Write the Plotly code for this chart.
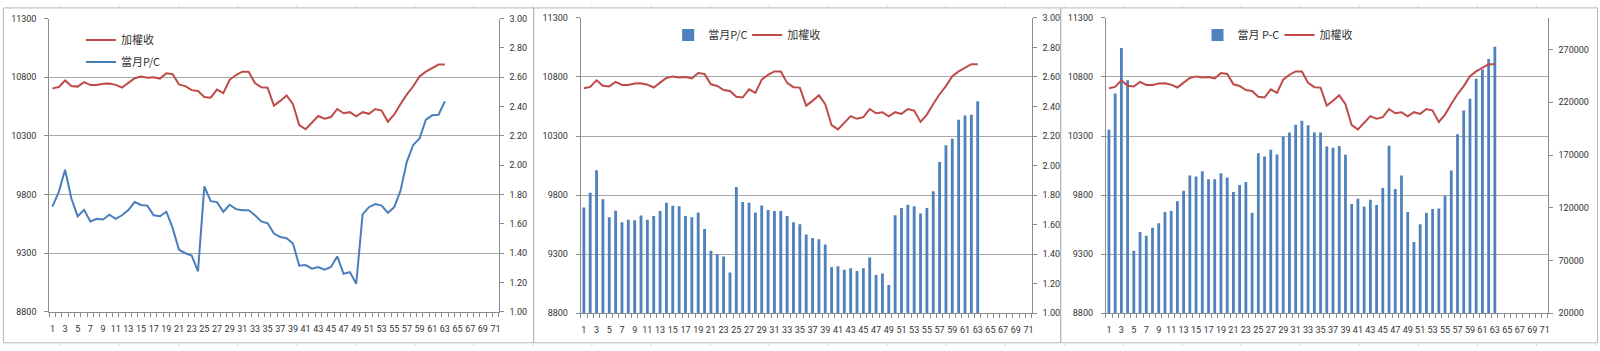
import plotly.graph_objects as go

# ---------------- data ----------------
periods = [1, 2, 3, 4, 5, 6, 7, 8, 9, 10, 11, 12, 13, 14, 15, 16, 17, 18, 19, 20,
           21, 22, 23, 24, 25, 26, 27, 28, 29, 30, 31, 32, 33, 34, 35, 36, 37, 38, 39, 40,
           41, 42, 43, 44, 45, 46, 47, 48, 49, 50, 51, 52, 53, 54, 55, 56, 57, 58, 59, 60,
           61, 62, 63]

# 加權收 (weighted index close)
taiex = [10705, 10716, 10772, 10725, 10720, 10758, 10733, 10733, 10745, 10747,
         10735, 10711, 10752, 10792, 10805, 10796, 10800, 10788, 10833, 10825,
         10738, 10724, 10690, 10682, 10632, 10626, 10695, 10665, 10778, 10819,
         10847, 10846, 10750, 10714, 10710, 10558, 10598, 10645, 10570, 10392,
         10356, 10412, 10469, 10446, 10460, 10529, 10493, 10502, 10467, 10502,
         10488, 10529, 10516, 10420, 10482, 10571, 10654, 10723, 10806, 10847,
         10875, 10908, 10908]

# 當月P/C ratio
pc_ratio = [1.717, 1.816, 1.969, 1.772, 1.651, 1.695, 1.616, 1.634, 1.629, 1.662,
            1.634, 1.658, 1.693, 1.748, 1.728, 1.724, 1.658, 1.651, 1.682, 1.570,
            1.423, 1.399, 1.384, 1.276, 1.855, 1.754, 1.748, 1.682, 1.730, 1.700,
            1.693, 1.693, 1.658, 1.616, 1.603, 1.533, 1.509, 1.502, 1.465, 1.314,
            1.318, 1.294, 1.305, 1.287, 1.305, 1.377, 1.259, 1.270, 1.191, 1.664,
            1.713, 1.735, 1.724, 1.675, 1.713, 1.827, 2.024, 2.138, 2.182, 2.311,
            2.340, 2.344, 2.436]

# 當月 P-C (put minus call open interest)
pc_diff = [193900, 228300, 271500, 240800, 79200, 97000, 93600, 101000, 105300, 116000,
           116900, 126100, 136200, 150700, 149700, 154600, 147000, 147000, 152800, 148800,
           135000, 141500, 144500, 115400, 171800, 168700, 174900, 170600, 187500, 191400,
           198800, 202500, 198200, 191400, 191400, 178000, 177000, 178600, 170300, 123700,
           128600, 121200, 127700, 122700, 138700, 178900, 137800, 150700, 116000, 87500,
           104300, 115400, 118800, 119400, 131600, 155300, 189600, 212300, 223300, 242400,
           251200, 261100, 272700]

x_tick_labels = ["1", "3", "5", "7", "9", "11", "13", "15", "17", "19", "21", "23", "25",
                 "27", "29", "31", "33", "35", "37", "39", "41", "43", "45", "47", "49",
                 "51", "53", "55", "57", "59", "61", "63", "65", "67", "69", "71"]
x_tick_vals = [int(t) for t in x_tick_labels]
index_ticks = [8800, 9300, 9800, 10300, 10800, 11300]
ratio_ticks = [1.0, 1.2, 1.4, 1.6, 1.8, 2.0, 2.2, 2.4, 2.6, 2.8, 3.0]
diff_ticks = [20000, 70000, 120000, 170000, 220000, 270000]

# ---------------- style ----------------
W, H = 1600, 351
RED = "#BE4B48"
BLUE = "#4A7EBB"
BAR = "#4F81BD"
GRID = "#a8a8a8"
AXIS = "#8c8c8c"
TXT = "#333333"
TICKFONT = dict(family="Roboto, Liberation Sans, sans-serif", size=9, color=TXT)
LEGFONT = dict(family="Noto Sans CJK TC, Noto Sans, sans-serif", size=11, color=TXT)


def px_x(v):
    return v / W


def px_y(v):
    return 1 - v / H


def xaxis_cfg(x0, x1, anchor):
    return dict(
        domain=[px_x(x0), px_x(x1)], anchor=anchor, range=[0.5, 71.5],
        tickmode="array", tickvals=x_tick_vals, ticktext=x_tick_labels,
        ticks="", tickangle=0, ticklabelstandoff=8,
        showline=True, linecolor=AXIS, linewidth=1, showgrid=False, zeroline=False,
        minor=dict(tickmode="linear", tick0=0.5, dtick=1, ticks="outside",
                   ticklen=4, tickcolor=AXIS, showgrid=False),
        tickfont=TICKFONT, fixedrange=True,
    )


def index_axis(side, anchor, domain=None, overlaying=None):
    d = dict(
        range=[8800, 11300], tickmode="array", tickvals=index_ticks,
        ticktext=[str(t) for t in index_ticks], side=side, anchor=anchor,
        showgrid=True, gridcolor=GRID, gridwidth=1, zeroline=False,
        showline=True, linecolor=AXIS, ticks="outside", ticklen=4, tickcolor=AXIS,
        ticklabelstandoff=6, tickfont=TICKFONT,
    )
    if domain is not None:
        d["domain"] = domain
    if overlaying is not None:
        d["overlaying"] = overlaying
    return d


def right_axis(rng, tickvals, ticktext, anchor, domain=None, overlaying=None):
    d = dict(
        range=rng, tickmode="array", tickvals=tickvals, ticktext=ticktext,
        side="right", anchor=anchor, showgrid=False, zeroline=False,
        showline=True, linecolor=AXIS, ticks="outside", ticklen=4, tickcolor=AXIS,
        ticklabelstandoff=4, tickfont=TICKFONT,
    )
    if domain is not None:
        d["domain"] = domain
    if overlaying is not None:
        d["overlaying"] = overlaying
    return d


ratio_text = ["%.2f" % t for t in ratio_ticks]
diff_text = [str(t) for t in diff_ticks]

fig = go.Figure()

# ---------- panel 1: two lines ----------
fig.add_trace(go.Scatter(x=periods, y=taiex, name="加權收", mode="lines",
                         line=dict(color=RED, width=2), xaxis="x", yaxis="y",
                         legend="legend", legendgroup="a"))
fig.add_trace(go.Scatter(x=periods, y=pc_ratio, name="當月P/C", mode="lines",
                         line=dict(color=BLUE, width=2), xaxis="x", yaxis="y2",
                         legend="legend", legendgroup="b"))

# ---------- panel 2: P/C bars + index line ----------
fig.add_trace(go.Bar(x=periods, y=pc_ratio, name="當月P/C", marker_color=BAR,
                     marker_line_width=0, width=0.45, xaxis="x2", yaxis="y3",
                     legend="legend2"))
fig.add_trace(go.Scatter(x=periods, y=taiex, name="加權收", mode="lines",
                         line=dict(color=RED, width=2), xaxis="x2", yaxis="y4",
                         legend="legend2"))

# ---------- panel 3: P-C bars + index line ----------
fig.add_trace(go.Bar(x=periods, y=pc_diff, name="當月 P-C", marker_color=BAR,
                     marker_line_width=0, width=0.45, xaxis="x3", yaxis="y5",
                     legend="legend3"))
fig.add_trace(go.Scatter(x=periods, y=taiex, name="加權收", mode="lines",
                         line=dict(color=RED, width=2), xaxis="x3", yaxis="y6",
                         legend="legend3"))

dom1 = [px_y(315.7), px_y(14.0)]
dom23 = [px_y(317.3), px_y(13.3)]

leg_common = dict(bgcolor="rgba(0,0,0,0)", font=LEGFONT, xanchor="left",
                  yanchor="top")

fig.update_layout(
    width=W, height=H, autosize=False,
    margin=dict(l=0, r=0, t=0, b=0, pad=0),
    paper_bgcolor="white", plot_bgcolor="white",
    showlegend=True, barmode="overlay",
    xaxis=xaxis_cfg(49.3, 499.3, "y"),
    yaxis=index_axis("left", "x", domain=dom1),
    yaxis2=right_axis([1, 3], ratio_ticks, ratio_text, "x", overlaying="y"),
    xaxis2=xaxis_cfg(581.4, 1033.0, "y3"),
    yaxis3=right_axis([1, 3], ratio_ticks, ratio_text, "x2", domain=dom23),
    yaxis4=index_axis("left", "x2", overlaying="y3"),
    xaxis3=xaxis_cfg(1107.2, 1549.7, "y5"),
    yaxis5=right_axis([20000, 300000], diff_ticks, diff_text, "x3", domain=dom23),
    yaxis6=index_axis("left", "x3", overlaying="y5"),
    legend=dict(x=px_x(81), y=px_y(21), orientation="v", tracegroupgap=3,
                **leg_common),
    legend2=dict(x=px_x(669), y=px_y(16), orientation="h", entrywidth=34,
                 **leg_common),
    legend3=dict(x=px_x(1199), y=px_y(16), orientation="h", entrywidth=37,
                 **leg_common),
)

# chart-area borders (Excel chart objects) and spreadsheet column lines
shapes = []
for x0, x1 in [(3.4, 534.3), (534.3, 1062.0), (1062.0, 1599.5)]:
    shapes.append(dict(type="rect", xref="paper", yref="paper",
                       x0=px_x(x0), x1=px_x(x1), y0=px_y(347.7), y1=px_y(3.0),
                       line=dict(color="#b5b5b5", width=1), layer="below"))
k = 1
while 1.7 + 59.1 * k < W:
    cx = px_x(1.7 + 59.1 * k)
    shapes.append(dict(type="line", xref="paper", yref="paper", x0=cx, x1=cx,
                       y0=px_y(0), y1=px_y(2.5), line=dict(color="#d9d9d9", width=1)))
    shapes.append(dict(type="line", xref="paper", yref="paper", x0=cx, x1=cx,
                       y0=px_y(348.5), y1=px_y(351), line=dict(color="#d9d9d9", width=1)))
    k += 1
fig.update_layout(shapes=shapes)

fig.write_html("out.html")
